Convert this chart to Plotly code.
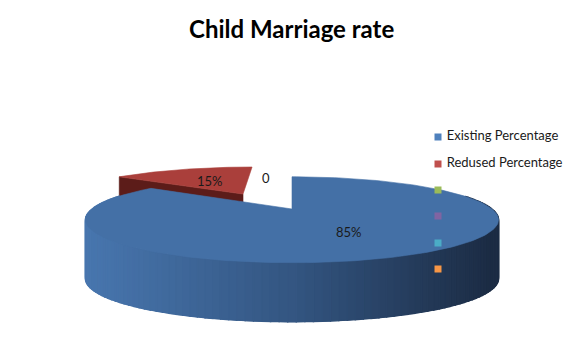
import numpy as np
import plotly.graph_objects as go

# ---------------- data ----------------
categories = ["Existing Percentage", "Redused Percentage", "", "", "", ""]
values = [85, 15, 0, 0, 0, 0]
data_labels = ["85%", "15%", "0"]
title_text = "Child Marriage rate"

# ---------------- style ----------------
series_colors = ["#4F81BD", "#C0504D", "#9BBB59", "#8064A2", "#4BACC6", "#F79646"]
top_colors = ["rgb(68,112,166)", "rgb(170,63,59)"]
side_dark = ["rgb(34,52,80)", "rgb(92,28,25)"]
W, H = 581, 359
CX, CY = 292, 209          # pie centre on screen
A, SY, K = 200, 40.3, 0.25  # horizontal radius, vertical scale, perspective
DEPTH = 59
explode = [(0.0, 0.0), (-0.27, 0.409)]  # per-slice offset (world units)
FONT = "Lato, Liberation Sans"


def proj(X, Z, dz=0.0):
    s = 1 + K * Z
    return CX + A * X / s, CY - SY * Z / s + dz


def lerp_col(c1, c2, f):
    return tuple(c1[i] + (c2[i] - c1[i]) * f for i in range(3))


fig = go.Figure()

total = sum(values)
starts = np.cumsum([0] + values[:-1]) / total * 2 * np.pi
spans = np.array(values) / total * 2 * np.pi


def arc(i, t0, t1, n=80, dz=0.0):
    ox, oz = explode[i]
    ts = np.linspace(t0, t1, n)
    pts = [proj(np.sin(t) + ox, np.cos(t) + oz, dz) for t in ts]
    return [p[0] for p in pts], [p[1] for p in pts]


def poly(xs, ys, color, lw=0.6):
    fig.add_trace(go.Scatter(x=xs, y=ys, mode="lines", fill="toself",
                             fillcolor=color, line=dict(color=color, width=lw),
                             hoverinfo="skip", showlegend=False))


# ---- red slice (behind) ----
i = 1
t0, t1 = starts[i], starts[i] + spans[i]
ox, oz = explode[i]
ax, ay = proj(ox, oz)
rx, ry = proj(np.sin(t0) + ox, np.cos(t0) + oz)
poly([ax, rx, rx, ax, ax], [ay, ry, ry + DEPTH, ay + DEPTH, ay], side_dark[1])
xs, ys = arc(i, t0, t1)
poly([ax] + xs + [ax], [ay] + ys + [ay], top_colors[1])

# ---- blue slice side wall with gradient ----
i = 0
t0, t1 = starts[i], starts[i] + spans[i]
lo, hi = max(t0, np.radians(70)), min(t1, np.radians(290))
# base wall underneath to hide seams
xa, ya = arc(i, lo, hi, n=120)
xb, yb = arc(i, hi, lo, n=120, dz=DEPTH)
poly(xa + xb + [xa[0]], ya + yb + [ya[0]], "rgb(50,82,124)")
edges = np.linspace(lo, hi, 120)
segs = list(zip(edges[:-1], edges[1:]))
segs.sort(key=lambda s: -np.cos((s[0] + s[1]) / 2))
stops = [(0.0, (72, 118, 174)), (0.5, (52, 86, 130)), (1.0, (28, 44, 68))]
for a0, a1 in segs:
    xa, ya = arc(i, a0, a1, n=4)
    xb, yb = arc(i, a1, a0, n=4, dz=DEPTH)
    mx = (np.mean(xa) - (CX - A)) / (2 * A)
    mx = min(max(mx, 0), 1)
    if mx <= 0.5:
        c = lerp_col(stops[0][1], stops[1][1], mx / 0.5)
    else:
        c = lerp_col(stops[1][1], stops[2][1], (mx - 0.5) / 0.5)
    col = "rgb(%d,%d,%d)" % tuple(int(v) for v in c)
    poly(xa + xb + [xa[0]], ya + yb + [ya[0]], col, lw=1.4)

# blue top face
ax, ay = proj(*explode[0])
xs, ys = arc(0, t0, t1, n=200)
poly([ax] + xs + [ax], [ay] + ys + [ay], top_colors[0])

# ---- data labels ----
label_r = [0.55, 0.5]
for i, lab in enumerate(data_labels[:2]):
    mid = starts[i] + spans[i] / 2
    ox, oz = explode[i]
    lx, ly = proj(np.sin(mid) * label_r[i] + ox, np.cos(mid) * label_r[i] + oz)
    fig.add_annotation(x=lx, y=ly, text=lab, showarrow=False,
                       font=dict(family=FONT, size=13, color="#1a1a1a"))
zx, zy = proj(-0.16, 0.95)
fig.add_annotation(x=zx, y=zy, text=data_labels[2], showarrow=False,
                   font=dict(family=FONT, size=13, color="#1a1a1a"))

# ---- legend (drawn as markers + text) ----
leg_x = 438
leg_y = [137, 164, 190, 216, 243, 269]
fig.add_trace(go.Scatter(
    x=[leg_x] * len(categories), y=leg_y, mode="markers+text",
    marker=dict(symbol="square", size=7, color=series_colors),
    text=[" " + c for c in categories], textposition="middle right",
    textfont=dict(family=FONT, size=13, color="#1a1a1a"),
    hoverinfo="skip", showlegend=False))

# ---- title ----
fig.add_annotation(x=W / 2 + 1, y=28, text="<b>" + title_text + "</b>", showarrow=False,
                   font=dict(family=FONT, size=24, color="#000000"))

fig.update_layout(
    width=W, height=H, margin=dict(l=0, r=0, t=0, b=0),
    paper_bgcolor="white", plot_bgcolor="white",
    xaxis=dict(range=[0, W], visible=False, fixedrange=True),
    yaxis=dict(range=[H, 0], visible=False, fixedrange=True),
    showlegend=False,
)

fig.write_html("out.html", config={"displayModeBar": False},
               post_script="document.body.style.margin='0';")
